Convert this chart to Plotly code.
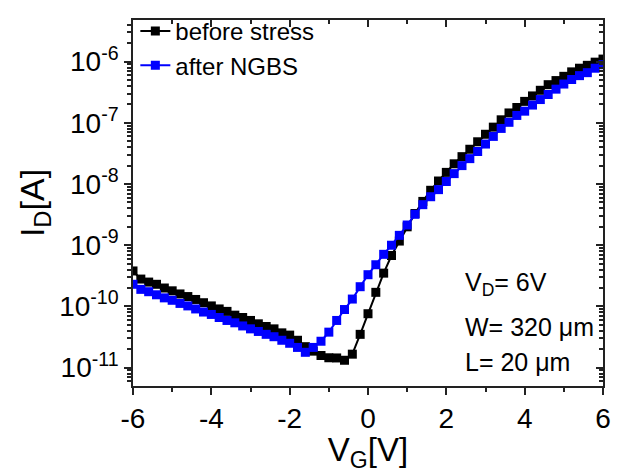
import plotly.graph_objects as go

vg = [round(-6 + 0.2 * i, 1) for i in range(61)]

before_stress = [
    3.8e-10, 2.8e-10, 2.5e-10, 2.3e-10, 2.0e-10, 1.8e-10, 1.6e-10, 1.45e-10, 1.3e-10, 1.15e-10,
    1.02e-10, 9.1e-11, 8.3e-11, 7.2e-11, 6.6e-11, 5.9e-11, 5.2e-11, 4.7e-11, 4.3e-11, 3.7e-11,
    3.4e-11, 2.8e-11, 2.2e-11, 1.86e-11, 1.58e-11, 1.45e-11, 1.44e-11, 1.32e-11, 1.66e-11, 3.5e-11,
    7.6e-11, 1.7e-10, 3.5e-10, 6.8e-10, 1.17e-9, 2.0e-9, 3.3e-9, 5.2e-9, 7.9e-9, 1.12e-8,
    1.55e-8, 2.14e-8, 2.8e-8, 3.7e-8, 4.9e-8, 6.5e-8, 8.5e-8, 1.12e-7, 1.45e-7, 1.78e-7,
    2.24e-7, 2.75e-7, 3.4e-7, 4.2e-7, 4.9e-7, 5.75e-7, 6.8e-7, 7.8e-7, 8.7e-7, 9.8e-7,
    1.1e-6,
]

after_ngbs = [
    2.3e-10, 1.9e-10, 1.74e-10, 1.55e-10, 1.38e-10, 1.26e-10, 1.12e-10, 1.02e-10, 9.1e-11, 8.1e-11,
    7.4e-11, 6.6e-11, 5.9e-11, 5.4e-11, 4.8e-11, 4.3e-11, 3.9e-11, 3.5e-11, 3.2e-11, 2.8e-11,
    2.5e-11, 2.14e-11, 1.78e-11, 2.14e-11, 2.7e-11, 3.8e-11, 5.9e-11, 8.9e-11, 1.32e-10, 2.1e-10,
    3.3e-10, 4.8e-10, 7.1e-10, 1.0e-9, 1.45e-9, 2.14e-9, 3.2e-9, 4.6e-9, 6.2e-9, 8.1e-9,
    1.1e-8, 1.48e-8, 2.0e-8, 2.6e-8, 3.4e-8, 4.5e-8, 6.0e-8, 8.1e-8, 1.02e-7, 1.32e-7,
    1.55e-7, 1.95e-7, 2.4e-7, 2.9e-7, 3.55e-7, 4.3e-7, 5.1e-7, 5.9e-7, 6.6e-7, 7.8e-7,
    8.9e-7,
]

x_ticks = [-6, -4, -2, 0, 2, 4, 6]
x_ticktext = ["-6", "-4", "-2", "0", "2", "4", "6"]
x_minor = [-5, -3, -1, 1, 3, 5]
y_ticks = [1e-11, 1e-10, 1e-9, 1e-8, 1e-7, 1e-6]
y_ticktext = ["10<sup>-11</sup>", "10<sup>-10</sup>", "10<sup>-9</sup>", "10<sup>-8</sup>",
              "10<sup>-7</sup>", "10<sup>-6</sup>"]
y_minor = [m * 10.0 ** e for e in range(-12, -5) for m in range(2, 10)]

notes = ["V<sub>D</sub>= 6V", "W= 320 \u03bcm", "L= 20 \u03bcm"]

FONT = "Arial, Liberation Sans, sans-serif"
AX = "#222"

fig = go.Figure()
# invisible trace to activate the mirrored (top/right) axes
fig.add_trace(go.Scatter(
    x=vg, y=before_stress, xaxis="x2", yaxis="y2", mode="lines",
    line=dict(color="rgba(0,0,0,0)"), hoverinfo="skip", showlegend=False,
))
fig.add_trace(go.Scatter(
    x=vg, y=before_stress, mode="lines+markers", name="before stress",
    line=dict(color="black", width=2),
    marker=dict(symbol="square", size=9, color="black"),
))
fig.add_trace(go.Scatter(
    x=vg, y=after_ngbs, mode="lines+markers", name="after NGBS",
    line=dict(color="#0000ff", width=2),
    marker=dict(symbol="square", size=9, color="#0000ff"),
))

yr = [-11.3, -5.32]

fig.update_layout(
    width=622, height=473,
    margin=dict(l=133, r=19, t=9, b=85),
    paper_bgcolor="white", plot_bgcolor="white",
    font=dict(family=FONT, color="black"),
    showlegend=True,
    legend=dict(x=0.005, y=1.03, xanchor="left", yanchor="top",
                font=dict(size=24, family=FONT), bgcolor="rgba(0,0,0,0)",
                tracegroupgap=0, itemsizing="trace"),
    xaxis=dict(
        range=[-6, 6], tickmode="array", tickvals=x_ticks, ticktext=x_ticktext,
        ticks="outside", ticklen=7, tickwidth=1.5, tickcolor=AX,
        showline=True, linecolor=AX, linewidth=1.5, showgrid=False, zeroline=False,
        tickfont=dict(size=28, family=FONT),
        minor=dict(tickvals=x_minor, ticks="outside", ticklen=4, tickcolor=AX),
        title=dict(text="V<sub>G</sub>[V]", font=dict(size=33, family=FONT), standoff=7),
    ),
    xaxis2=dict(
        range=[-6, 6], overlaying="x", side="top", anchor="y",
        tickmode="array", tickvals=x_ticks, showticklabels=False,
        ticks="inside", ticklen=7, tickwidth=1.5, tickcolor=AX,
        showline=True, linecolor=AX, linewidth=1.5, showgrid=False, zeroline=False,
        minor=dict(tickvals=x_minor, ticks="inside", ticklen=4, tickcolor=AX),
    ),
    yaxis=dict(
        type="log", range=yr, tickmode="array", tickvals=y_ticks, ticktext=y_ticktext,
        ticks="outside", ticklen=7, tickwidth=1.5, tickcolor=AX,
        showline=True, linecolor=AX, linewidth=1.5, showgrid=False, zeroline=False,
        tickfont=dict(size=28, family=FONT),
        minor=dict(tickvals=y_minor, ticks="outside", ticklen=4, tickcolor=AX),
        title=dict(text="I<sub>D</sub>[A]", font=dict(size=34, family=FONT), standoff=4),
    ),
    yaxis2=dict(
        type="log", range=yr, overlaying="y", side="right", anchor="x",
        tickmode="array", tickvals=y_ticks, showticklabels=False,
        ticks="inside", ticklen=7, tickwidth=1.5, tickcolor=AX,
        showline=True, linecolor=AX, linewidth=1.5, showgrid=False, zeroline=False,
        minor=dict(tickvals=y_minor, ticks="inside", ticklen=4, tickcolor=AX),
    ),
)

note_y = [0.280, 0.161, 0.066]
for t, yy in zip(notes, note_y):
    fig.add_annotation(x=0.702, y=yy, xref="paper", yref="paper",
                       xanchor="left", yanchor="middle", text=t, showarrow=False,
                       font=dict(size=25, family=FONT, color="black"))

fig.write_html("out.html")
